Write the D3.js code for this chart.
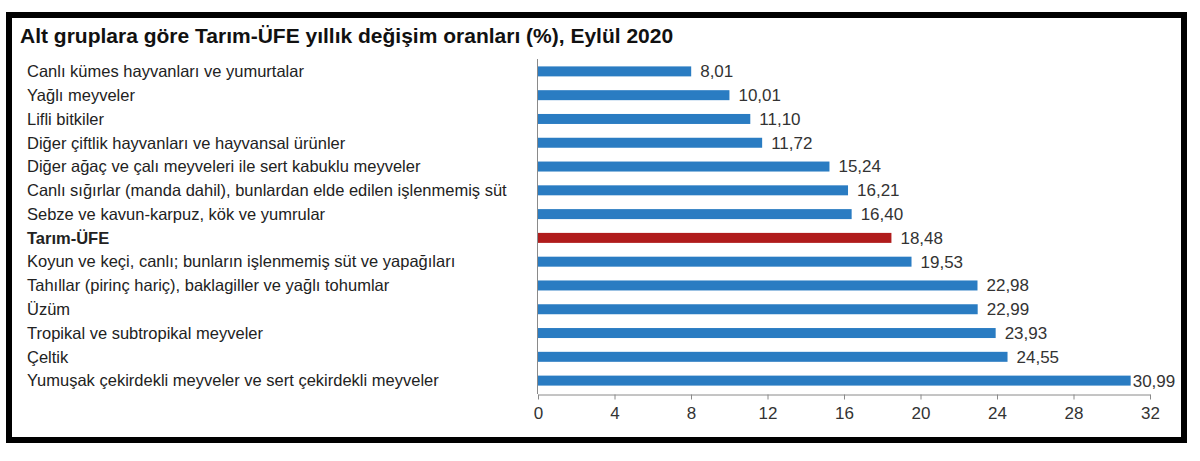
<!DOCTYPE html>
<html><head><meta charset="utf-8">
<script src="https://cdn.jsdelivr.net/npm/d3@7"></script>
<style>body{margin:0;background:#fff}svg{display:block}</style>
</head><body>
<svg id="c" width="1200" height="461"></svg>
<script>
const title = "Alt gruplara göre Tarım-ÜFE yıllık değişim oranları (%), Eylül 2020";
const categories = [
  "Canlı kümes hayvanları ve yumurtalar",
  "Yağlı meyveler",
  "Lifli bitkiler",
  "Diğer çiftlik hayvanları ve hayvansal ürünler",
  "Diğer ağaç ve çalı meyveleri ile sert kabuklu meyveler",
  "Canlı sığırlar (manda dahil), bunlardan elde edilen işlenmemiş süt",
  "Sebze ve kavun-karpuz, kök ve yumrular",
  "Tarım-ÜFE",
  "Koyun ve keçi, canlı; bunların işlenmemiş süt ve yapağıları",
  "Tahıllar (pirinç hariç), baklagiller ve yağlı tohumlar",
  "Üzüm",
  "Tropikal ve subtropikal meyveler",
  "Çeltik",
  "Yumuşak çekirdekli meyveler ve sert çekirdekli meyveler"
];
const values = [8.01, 10.01, 11.10, 11.72, 15.24, 16.21, 16.40, 18.48, 19.53, 22.98, 22.99, 23.93, 24.55, 30.99];
const highlight = "Tarım-ÜFE";
const xTicks = [0, 4, 8, 12, 16, 20, 24, 28, 32];

const svg = d3.select("#c");
const font = "'Liberation Sans', Arial, sans-serif";

svg.append("rect").attr("x", 9).attr("y", 15).attr("width", 1175).attr("height", 425)
  .attr("fill", "#fff").attr("stroke", "#000").attr("stroke-width", 6);

svg.append("text").attr("x", 20).attr("y", 43).text(title)
  .attr("font-family", font).attr("font-size", 21).attr("font-weight", "bold").attr("fill", "#111");

const x = d3.scaleLinear().domain([0, 32]).range([538, 1150]);
const y = d3.scaleBand().domain(categories).range([59.5, 392.5]).paddingInner(0.58).paddingOuter(0.29);

const g = svg.append("g");

// bars
g.selectAll("rect.bar").data(categories).join("rect")
  .attr("class", "bar")
  .attr("x", x(0))
  .attr("y", d => y(d))
  .attr("height", y.bandwidth())
  .attr("width", (d, i) => x(values[i]) - x(0))
  .attr("fill", d => d === highlight ? "#b01c1c" : "#2a7cc2");

// value labels
g.selectAll("text.val").data(categories).join("text")
  .attr("class", "val")
  .attr("font-family", font).attr("font-size", 17).attr("fill", "#333")
  .attr("dy", "0.35em")
  .attr("y", d => y(d) + y.bandwidth() / 2)
  .text((d, i) => values[i].toFixed(2).replace(".", ","))
  .attr("x", function(d, i) {
    const w = this.getComputedTextLength();
    const pos = x(values[i]) + 9;
    return pos + w > 1178 ? x(values[i]) + 2 : pos;
  });

// category labels
g.selectAll("text.cat").data(categories).join("text")
  .attr("class", "cat")
  .attr("x", 27)
  .attr("y", d => y(d) + y.bandwidth() / 2)
  .attr("dy", "0.35em")
  .attr("font-family", font).attr("font-size", 16.5)
  .attr("font-weight", d => d === highlight ? "bold" : "normal")
  .attr("fill", "#222")
  .text(d => d);

// y axis line
g.append("line").attr("x1", x(0) - 0.5).attr("x2", x(0) - 0.5)
  .attr("y1", 59).attr("y2", 394).attr("stroke", "#8a8a8a").attr("stroke-width", 1);

// x axis
const xa = svg.append("g").attr("transform", "translate(0,394.5)")
  .call(d3.axisBottom(x).tickValues(xTicks).tickSize(5).tickSizeOuter(0).tickFormat(d3.format("d")));
xa.select(".domain").attr("stroke", "#8a8a8a");
xa.selectAll(".tick line").attr("stroke", "#8a8a8a");
xa.selectAll(".tick text").attr("font-family", font).attr("font-size", 17).attr("fill", "#333").attr("dy", "0.95em");
</script>
</body></html>
